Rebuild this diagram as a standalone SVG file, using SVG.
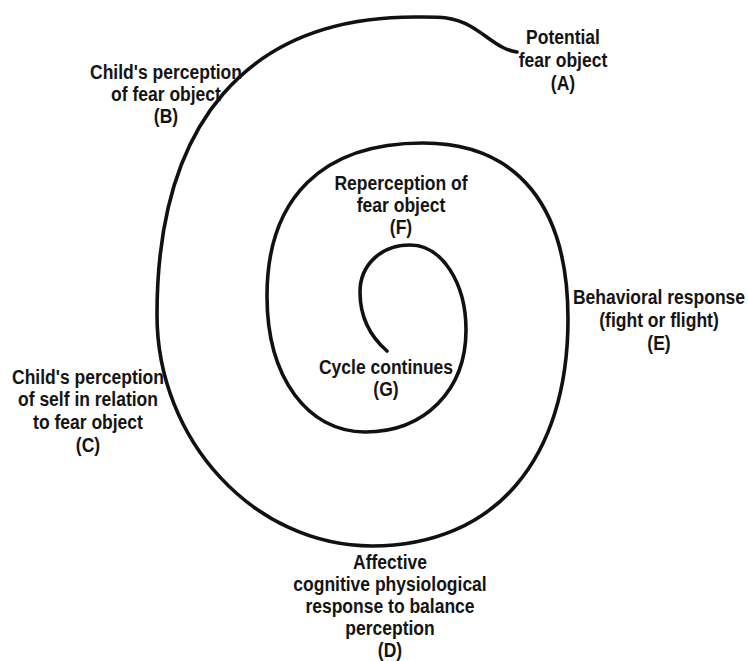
<svg xmlns="http://www.w3.org/2000/svg" width="748" height="661" viewBox="0 0 748 661">
<style>
.t{font-family:"Liberation Sans",Arial,sans-serif;font-weight:bold;font-size:20px;fill:#141414;text-anchor:middle}
.sp{fill:none;stroke:#111;stroke-width:3.6;stroke-linecap:round;stroke-linejoin:round}
</style>
<rect width="748" height="661" fill="#fff"/>
<g id="connectors">
<path class="sp" d="M517,52 C500,50 488,36 470,26 C452,16 438,17 415,17 C247,17 157,123 157,315 C157,440 254,546 372,546 C495,546 568,459 568,319 C568,207 518,143 423,143 C322,143 267,198 267,296 C267,378 308,432 365,432 C425,432 466,390 466,330 C466,283 442,245 410,245 C381,245 360,265 360,292 C360,320 372,338 387,351"/>
</g>
<g id="nodeA" transform="matrix(0.875 0 0 1 563 0)">
<text class="t" x="0" y="44">Potential</text>
<text class="t" x="0" y="67">fear object</text>
<text class="t" x="0" y="90">(A)</text>
</g>
<g id="nodeB" transform="matrix(0.875 0 0 1 166 0)">
<text class="t" x="0" y="79">Child's perception</text>
<text class="t" x="0" y="101">of fear object</text>
<text class="t" x="0" y="123">(B)</text>
</g>
<g id="nodeC" transform="matrix(0.875 0 0 1 88 0)">
<text class="t" x="0" y="384">Child's perception</text>
<text class="t" x="0" y="406">of self in relation</text>
<text class="t" x="0" y="429">to fear object</text>
<text class="t" x="0" y="452">(C)</text>
</g>
<g id="nodeD" transform="matrix(0.875 0 0 1 390 0)">
<text class="t" x="0" y="569">Affective</text>
<text class="t" x="0" y="591">cognitive physiological</text>
<text class="t" x="0" y="613">response to balance</text>
<text class="t" x="0" y="635">perception</text>
<text class="t" x="0" y="657">(D)</text>
</g>
<g id="nodeE" transform="matrix(0.875 0 0 1 659 0)">
<text class="t" x="0" y="304">Behavioral response</text>
<text class="t" x="0" y="327">(fight or flight)</text>
<text class="t" x="0" y="350">(E)</text>
</g>
<g id="nodeF" transform="matrix(0.875 0 0 1 401 0)">
<text class="t" x="0" y="190">Reperception of</text>
<text class="t" x="0" y="212">fear object</text>
<text class="t" x="0" y="234">(F)</text>
</g>
<g id="nodeG" transform="matrix(0.875 0 0 1 386 0)">
<text class="t" x="0" y="374">Cycle continues</text>
<text class="t" x="0" y="396">(G)</text>
</g>
</svg>
